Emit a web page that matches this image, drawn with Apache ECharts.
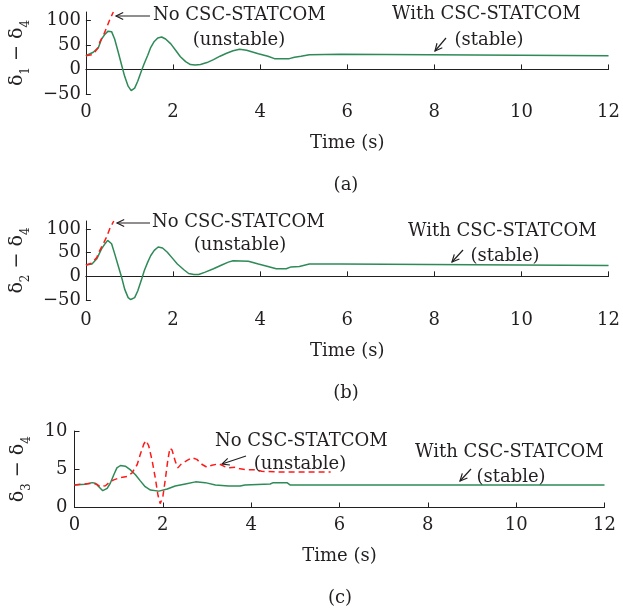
<!DOCTYPE html>
<html>
<head>
<meta charset="utf-8">
<script src="https://cdn.jsdelivr.net/npm/echarts@6/dist/echarts.min.js"></script>
<style>html,body{margin:0;padding:0;background:#fff}#c{width:623px;height:612px}</style>
</head>
<body>
<div id="c"></div>
<script>
// ---- data ----
const xTicks = [0, 2, 4, 6, 8, 10, 12];
const yTicksAB = [-50, 0, 50, 100];
const yTicksC = [0, 5, 10];

// panel (a): delta1 - delta4
const aWithT = [0, 0.17, 0.29, 0.36, 0.44, 0.51, 0.59, 0.66, 0.74, 0.82, 0.89, 0.97, 1.04, 1.12, 1.19, 1.27, 1.34, 1.42, 1.49, 1.57, 1.65, 1.74, 1.83, 1.95, 2.06, 2.17, 2.29, 2.40, 2.51, 2.63, 2.78, 2.93, 3.08, 3.23, 3.38, 3.53, 3.69, 3.96, 4.18, 4.33, 4.67, 4.79, 4.94, 5.13, 5.84, 5.88, 12];
const aWithV = [28, 35, 45, 62, 72, 78, 77, 62, 36, 9, -14, -34, -43, -38, -24, -4, 12, 29, 45, 57, 64, 66, 62, 52, 39, 26, 16, 10, 9, 10, 14, 20, 27, 33, 38, 41, 39, 32, 27, 22, 22, 25, 27, 30, 31, 28, 28];
const aNoT = [0, 0.14, 0.21, 0.29, 0.32, 0.40, 0.48, 0.55, 0.63];
const aNoV = [28, 30, 36, 45, 56, 69, 86, 102, 117];

// panel (b): delta2 - delta4
const bWithT = [0, 0.14, 0.25, 0.36, 0.44, 0.50, 0.59, 0.66, 0.74, 0.82, 0.89, 0.97, 1.03, 1.12, 1.19, 1.27, 1.34, 1.42, 1.49, 1.57, 1.66, 1.76, 1.87, 1.99, 2.10, 2.25, 2.36, 2.48, 2.59, 2.74, 2.93, 3.12, 3.27, 3.38, 3.73, 3.96, 4.18, 4.37, 4.60, 4.71, 4.90, 5.13, 5.84, 5.88, 12];
const bWithV = [24, 26, 37, 58, 69, 76, 69, 48, 23, -2, -27, -45, -49, -45, -31, -9, 12, 30, 44, 55, 62, 60, 51, 38, 26, 14, 6, 4, 4, 9, 16, 24, 30, 33, 32, 26, 21, 16, 16, 20, 21, 26, 26, 23, 23];
const bNoT = [0, 0.14, 0.25, 0.32, 0.40, 0.48, 0.55, 0.64];
const bNoV = [24, 28, 40, 55, 69, 84, 101, 117];

// panel (c): delta3 - delta4
const cWithT = [0, 0.24, 0.40, 0.47, 0.55, 0.64, 0.74, 0.81, 0.89, 0.96, 1.04, 1.15, 1.26, 1.38, 1.49, 1.60, 1.72, 1.91, 2.10, 2.28, 2.51, 2.74, 2.96, 3.19, 3.49, 3.75, 3.86, 4.43, 4.50, 4.81, 4.88, 12];
const cWithV = [2.95, 3.04, 3.25, 3.17, 2.72, 2.2, 2.5, 3.17, 4.28, 5.18, 5.49, 5.4, 4.95, 4.28, 3.48, 2.72, 2.28, 2.14, 2.41, 2.81, 3.08, 3.35, 3.25, 2.95, 2.81, 2.81, 2.95, 3.08, 3.25, 3.25, 2.95, 2.95];
const cNoT = [0, 0.40, 0.51, 0.58, 0.70, 0.81, 0.89, 1.04, 1.19, 1.30, 1.42, 1.49, 1.57, 1.62, 1.68, 1.76, 1.83, 1.89, 1.94, 2.00, 2.06, 2.11, 2.16, 2.21, 2.28, 2.34, 2.42, 2.55, 2.66, 2.77, 2.89, 3.00, 3.11, 3.27, 3.38, 3.49, 3.64, 3.75, 3.90, 4.09, 4.24, 4.65, 5.80];
const cNoV = [2.95, 3.17, 3.04, 2.72, 2.85, 3.39, 3.61, 3.92, 4.06, 4.5, 5.62, 6.96, 8.3, 8.74, 8.07, 6.06, 3.84, 1.6, 0.5, 1.38, 3.84, 6.06, 7.76, 7.5, 6.06, 5.18, 5.71, 6.16, 6.52, 6.29, 5.62, 5.26, 5.53, 5.71, 5.4, 5.18, 5.26, 5.05, 4.95, 4.95, 4.73, 4.64, 4.64];

const yNames = ['{d|δ}{s|1}{d| − δ}{s|4}', '{d|δ}{s|2}{d| − δ}{s|4}', '{d|δ}{s|3}{d| − δ}{s|4}'];
const panelLabels = ['(a)', '(b)', '(c)'];
const xName = 'Time (s)';
const noText = 'No CSC-STATCOM', unstableText = '(unstable)';
const withText = 'With CSC-STATCOM', stableText = '(stable)';

// ---- style ----
const FONT = "'DejaVu Serif', 'Liberation Serif', serif";
const INK = '#231f20';
const GREEN = '#2e8a57';
const RED = '#ff1a1a';
const FS = 18;

const zip = (t, v) => t.map((x, i) => [x, v[i]]);
const minus = v => (v < 0 ? '−' + Math.abs(v) : String(v));

const grids = [
  {left: 82, top: 12, width: 529, height: 82},
  {left: 82, top: 221, width: 529, height: 79},
  {left: 74.5, top: 431, width: 530, height: 76.5}
];
const yCfg = [
  {min: -50, max: 117, ticks: yTicksAB, gap: 52, margin: 5},
  {min: -50, max: 117, ticks: yTicksAB, gap: 52, margin: 5},
  {min: 0, max: 10, ticks: yTicksC, gap: 42, margin: 7}
];
const xLabelMargin = [9, 11, 9];
const xNameGap = [40, 42, 40];

const xAxes = grids.map((g, i) => ({
  type: 'value', gridIndex: i, min: 0, max: 12, interval: 2,
  axisLine: {lineStyle: {color: INK, width: 1}},
  axisTick: {inside: true, length: 5, lineStyle: {color: INK}},
  splitLine: {show: false},
  axisLabel: {color: INK, fontFamily: FONT, fontSize: FS, margin: xLabelMargin[i], customValues: xTicks},
  name: xName, nameLocation: 'middle', nameGap: xNameGap[i],
  nameTextStyle: {color: INK, fontFamily: FONT, fontSize: FS}
}));
const yAxes = yCfg.map((c, i) => ({
  type: 'value', gridIndex: i, min: c.min, max: c.max,
  axisLine: {show: true, lineStyle: {color: INK, width: 1}},
  axisTick: {show: true, inside: true, length: 5, lineStyle: {color: INK}, customValues: c.ticks},
  splitLine: {show: false},
  axisLabel: {color: INK, fontFamily: FONT, fontSize: FS, margin: c.margin, customValues: c.ticks, formatter: minus},
  name: yNames[i], nameLocation: 'middle', nameGap: c.gap, nameRotate: 90,
  nameTextStyle: {
    color: INK,
    rich: {
      d: {fontFamily: FONT, fontSize: 19, color: INK, verticalAlign: 'top', lineHeight: 24},
      s: {fontFamily: FONT, fontSize: 12, color: INK, verticalAlign: 'bottom', lineHeight: 24}
    }
  }
}));

const withData = [zip(aWithT, aWithV), zip(bWithT, bWithV), zip(cWithT, cWithV)];
const noData = [zip(aNoT, aNoV), zip(bNoT, bNoV), zip(cNoT, cNoV)];
const series = [];
for (let i = 0; i < 3; i++) {
  series.push({type: 'line', xAxisIndex: i, yAxisIndex: i, data: withData[i], showSymbol: false,
    lineStyle: {color: GREEN, width: 1.5}, animation: false, z: 2});
  series.push({type: 'line', xAxisIndex: i, yAxisIndex: i, data: noData[i], showSymbol: false,
    lineStyle: {color: RED, width: 1.5, type: [6, 4]}, animation: false, z: 3});
}

function txt(x, y, s, align, size) {
  return {type: 'text', x: x, y: y, z: 10,
    style: {text: s, fill: INK, fontFamily: FONT, fontSize: size || FS, align: align || 'left', verticalAlign: 'middle'}};
}
function arrow(x1, y1, x2, y2) {
  const a = Math.atan2(y2 - y1, x2 - x1), L = 8, w = 0.45;
  return {type: 'group', z: 10, children: [
    {type: 'line', shape: {x1: x1, y1: y1, x2: x2, y2: y2}, style: {stroke: INK, lineWidth: 1.2}},
    {type: 'polyline', shape: {points: [[x2 - L * Math.cos(a - w), y2 - L * Math.sin(a - w)], [x2, y2], [x2 - L * Math.cos(a + w), y2 - L * Math.sin(a + w)]]},
      style: {stroke: INK, fill: null, lineWidth: 1.2}}
  ]};
}

const graphics = [
  // (a)
  arrow(150, 16, 116, 16), txt(153, 15, noText), txt(239, 40, unstableText, 'center'),
  txt(392, 14, withText), txt(489, 40, stableText, 'center'), arrow(446, 38, 435, 51),
  txt(346, 185, panelLabels[0], 'center', 18),
  // (b)
  arrow(150, 223, 117, 223), txt(152, 222, noText), txt(240, 245, unstableText, 'center'),
  txt(408, 231, withText), txt(505, 256, stableText, 'center'), arrow(463, 250, 452, 262),
  txt(346, 393, panelLabels[1], 'center', 18),
  // (c)
  arrow(246, 456, 222, 464), txt(215, 441, noText), txt(300, 464, unstableText, 'center'),
  txt(415, 452, withText), txt(511, 477, stableText, 'center'), arrow(471, 469, 460, 481),
  txt(340, 598, panelLabels[2], 'center', 18)
];

const chart = echarts.init(document.getElementById('c'), null, {renderer: 'canvas'});
chart.setOption({
  animation: false,
  backgroundColor: '#fff',
  grid: grids,
  xAxis: xAxes,
  yAxis: yAxes,
  series: series,
  graphic: graphics
});
</script>
</body>
</html>
